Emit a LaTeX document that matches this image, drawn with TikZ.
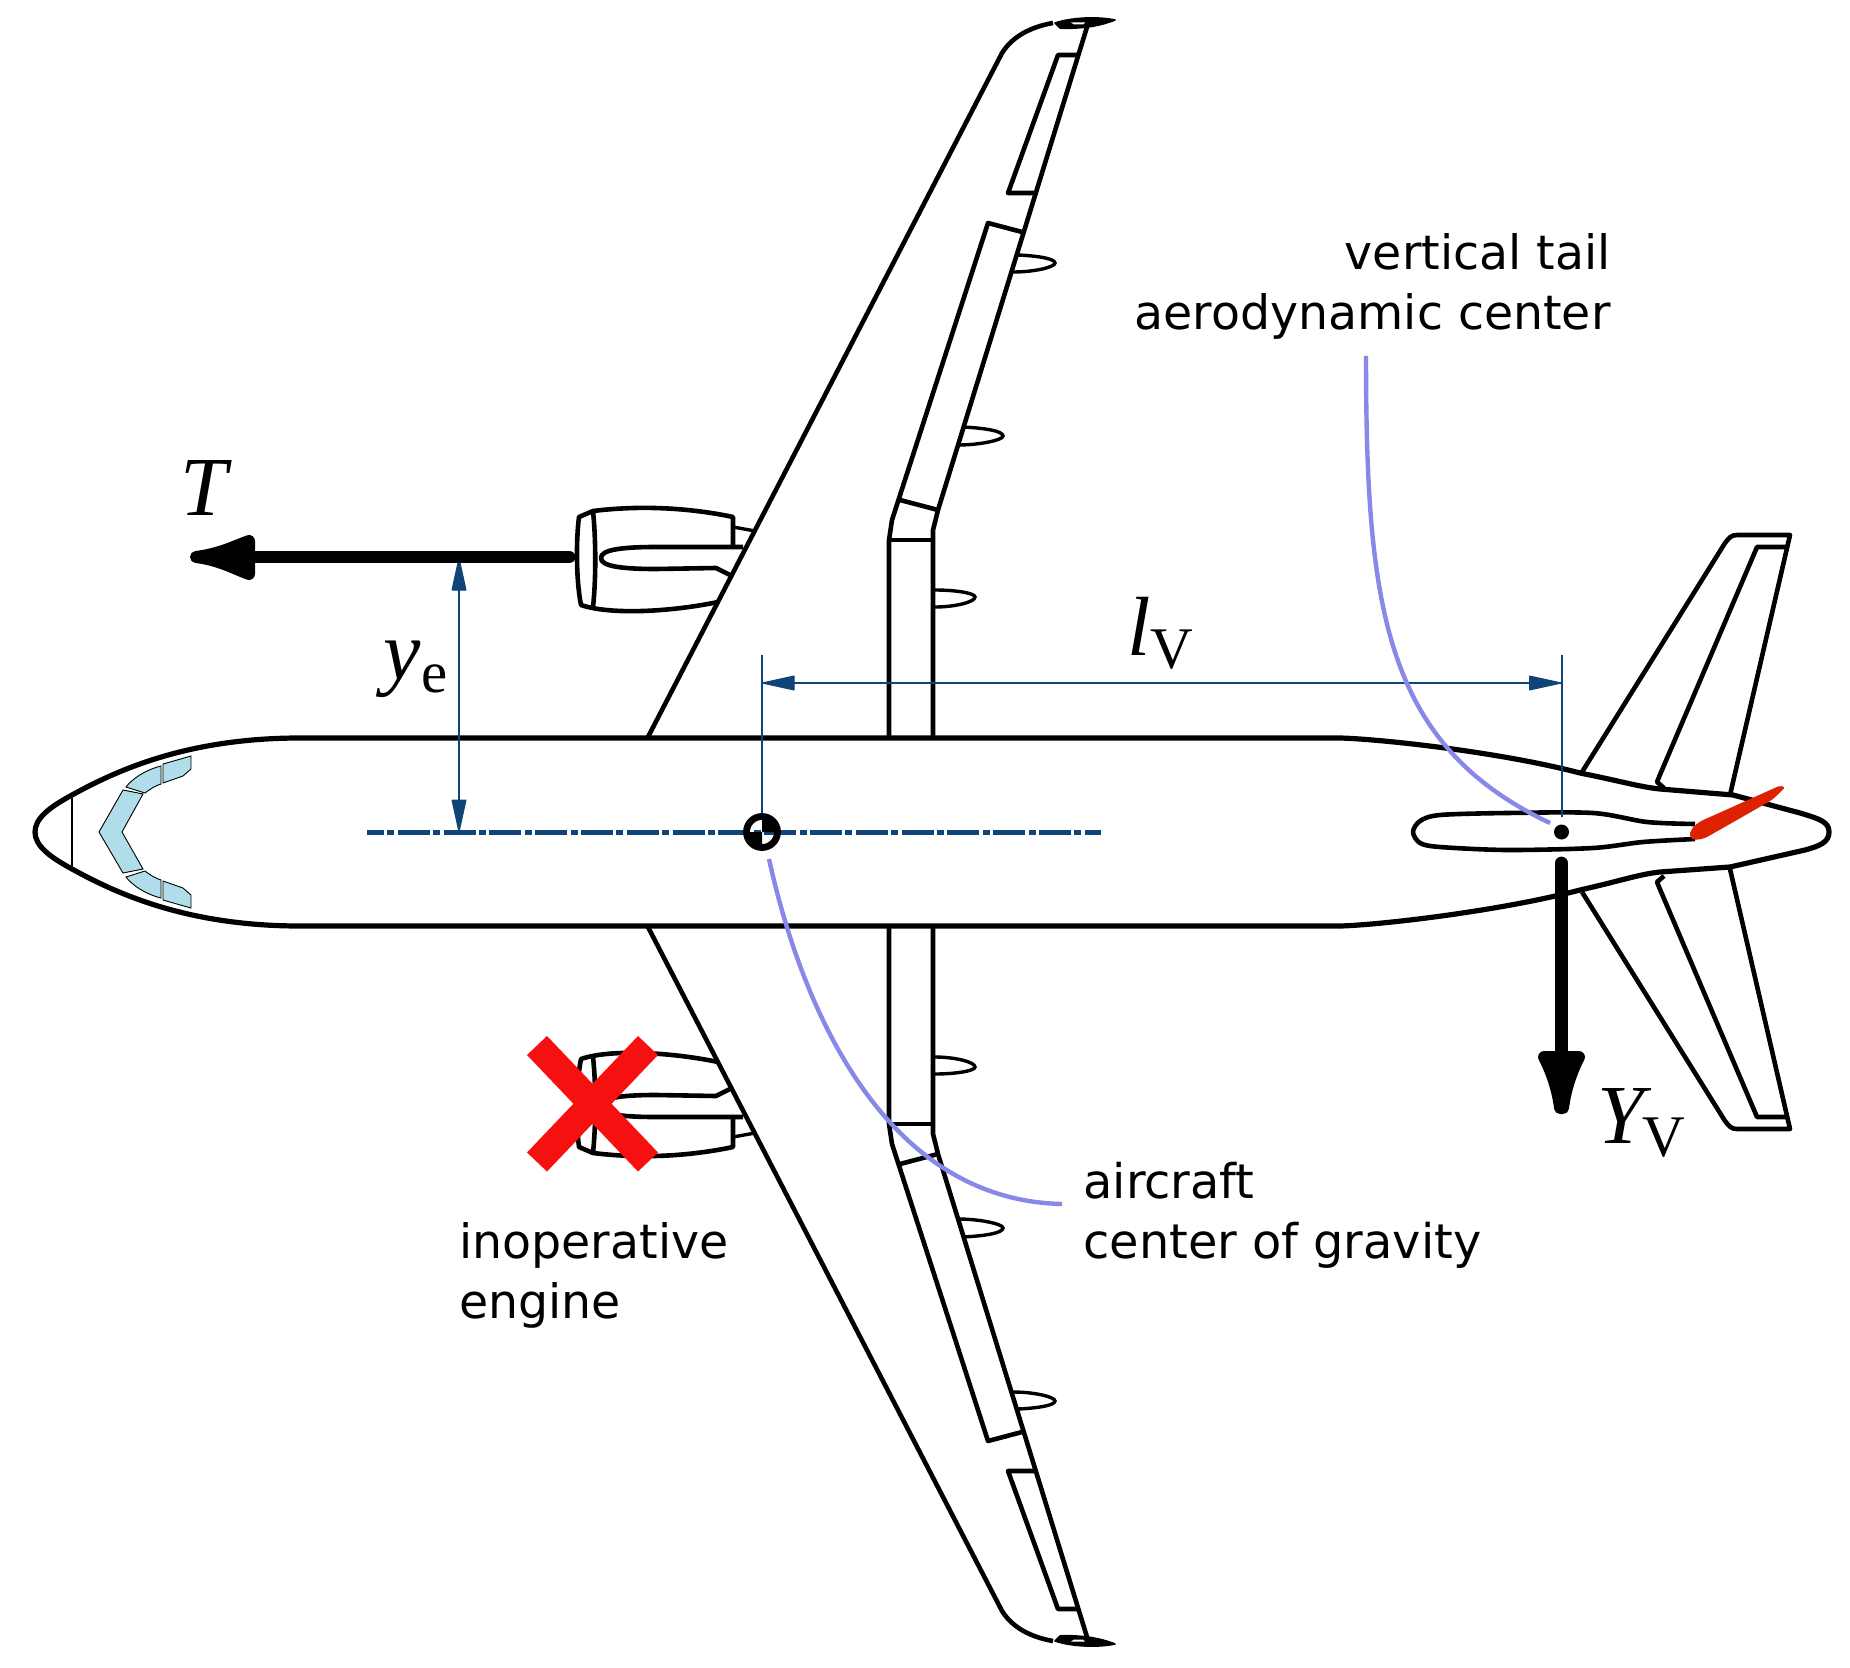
\documentclass[tikz,border=0pt]{standalone}
\usepackage{fontspec}
\setmainfont{DejaVu Sans}
\newfontfamily\tnr{Liberation Serif}
\newcommand{\symit}[1]{{\fontsize{42}{42}\selectfont\tnr\itshape #1}}
\newcommand{\symsub}[1]{\raisebox{-6.5pt}{\fontsize{29.5}{30}\selectfont\tnr #1}}
\definecolor{dimblue}{HTML}{0F4478}
\definecolor{leader}{HTML}{8888E8}
\definecolor{glass}{HTML}{B0DDEA}
\definecolor{rudderred}{HTML}{DC2200}
\definecolor{crossred}{HTML}{F71010}
\tikzset{
  hull/.style={draw=black,line width=2.6pt,line join=round},
  wingline/.style={draw=black,line width=2.3pt,line join=round},
  thinline/.style={draw=black,line width=1.7pt},
  pane/.style={fill=glass,draw=black,line width=0.45pt},
  dimline/.style={draw=dimblue,line width=1pt},
  dimhead/.style={fill=dimblue,draw=dimblue,line width=0.5pt,line join=round},
  leaderline/.style={draw=leader,line width=2.2pt},
  force/.style={draw=black,line width=6.4pt,line cap=round},
  forcehead/.style={fill=black,draw=black,line width=6pt,line join=round},
  caption/.style={font=\fontsize{23.7}{30}\selectfont,inner sep=0pt,align=left,anchor=north west},
  symbol/.style={inner sep=0pt,anchor=base west},
  crossbar/.style={draw=crossred,line width=13.8pt},
}
\newcommand{\halfplane}{%
  % wing
  \path[wingline] (648,737) -- (1002,53) .. controls (1012,37) and (1030,27) .. (1053,23);
  \path[wingline] (1087,27) -- (938,510) -- (933,530) -- (933,737);
  \path[wingline] (889,737) -- (889,540) -- (892,520) -- (988,223) -- (1022,232);
  \path[wingline] (889,540) -- (933,540);
  \path[wingline] (900,500) -- (938,510);
  \path[wingline] (1037,193) -- (1008,193) -- (1058,55) -- (1078,55);
  \path[fill=black,draw=black,line width=0.8pt,line join=round] (1055,23) .. controls (1070,18) and (1095,16) .. (1115,20) .. controls (1105,24) and (1095,26) .. (1088,27) .. controls (1078,28) and (1066,29) .. (1060,28) -- cycle;
  \path[fill=white] (1071,22.5) -- (1085,22.5) -- (1083,24.5) -- (1074,24.5) -- cycle;
  % flap fairings
  \path[thinline] (1018,255) .. controls (1040,256) and (1055,259) .. (1055,263) .. controls (1055,267) and (1035,272) .. (1013,272);
  \path[thinline] (962,427) .. controls (985,428) and (1003,431) .. (1003,436) .. controls (1003,440) and (980,445) .. (958,445);
  \path[thinline] (935,590) .. controls (955,590) and (975,593) .. (975,597) .. controls (975,602) and (955,607) .. (935,607);
  % engine
  \path[wingline] (733,547) -- (733,517) .. controls (700,510) and (650,504) .. (593,511) -- (579,517) .. controls (576,540) and (576,580) .. (581,605) .. controls (610,615) and (670,612) .. (718,602);
  \path[wingline] (593,511) .. controls (596,540) and (596,580) .. (593,607);
  \path[wingline] (743,547) -- (656,547) .. controls (620,547) and (601,550) .. (601,558) .. controls (601,566) and (620,569) .. (656,569) -- (716,568) -- (732,576);
  \path[draw=black,line width=1.7pt] (733,527) -- (755,531);
  % horizontal tail
  \path[wingline] (1582,772) -- (1725,543) .. controls (1729,538) and (1731,535) .. (1737,535) -- (1790,535) -- (1730,795);
  \path[wingline] (1787,547) -- (1757,547) -- (1659,777) -- (1657,782) -- (1664,788);
  % cockpit glass
  \path[pane] (163,764) -- (191,756) -- (191,769) -- (183,776) -- (163,783) -- cycle;
  \path[pane] (126,787) .. controls (132,779) and (145,770) .. (161,766) -- (161,784) .. controls (155,786) and (150,789) .. (145,793) -- cycle;
}
\begin{document}
\begin{tikzpicture}[x=0.5pt,y=-0.5pt]
\useasboundingbox (0,0) rectangle (1850,1668);
\fill[white] (0,0) rectangle (1850,1668);

\begin{scope}
  \halfplane
\end{scope}
\begin{scope}[shift={(0,832)},yscale=-1,shift={(0,-832)}]
  \halfplane
\end{scope}

% centre cockpit pane
\path[pane] (99,832) -- (123,790) -- (143,794) -- (122,832) -- (143,869) -- (123,873) -- cycle;
\draw[black,line width=0.55pt] (72,798) -- (72,866);

% fuselage
\draw[hull] (300,738) -- (1340,738) .. controls (1380,739) and (1500,752) .. (1580,773)
  .. controls (1620,781) and (1640,787) .. (1660,789) -- (1733,795) -- (1800,813)
  .. controls (1820,819) and (1829,822) .. (1829,832) .. controls (1829,842) and (1820,846) .. (1805,850)
  -- (1730,867) -- (1660,872) .. controls (1640,874) and (1620,881) .. (1580,890)
  .. controls (1500,911) and (1380,925) .. (1340,926) -- (300,926)
  .. controls (190,926) and (120,895.5) .. (72,869) .. controls (50,857) and (35,846) .. (35,832)
  .. controls (35,818) and (50,807) .. (72,795) .. controls (120,768.5) and (190,738) .. (300,738) -- cycle;

% vertical tail
\draw[wingline] plot[smooth,tension=0.5] coordinates {
  (1695,824) (1647,822) (1593,813) (1507,813) (1440,815) (1420,821) (1413,832) (1420,843) (1440,847) (1507,850) (1593,848) (1643,842) (1695,839)};
\fill[rudderred] (1690,833) .. controls (1692,827) and (1697,822) .. (1710,817) -- (1778,786.5) .. controls (1783,785.5) and (1786,787) .. (1783,789.5) .. controls (1778,794) and (1775,798) .. (1770,801) -- (1737,820) -- (1707,837) .. controls (1698,841) and (1689,841) .. (1690,833) -- cycle;

% named reference points
\coordinate (cg) at (762,832);
\coordinate (ac) at (1561.5,832);
\coordinate (clL) at (367,832);
\coordinate (clR) at (1101,832);
\coordinate (dimL) at (762,683);
\coordinate (dimR) at (1561.5,683);
\coordinate (extL) at (762,655);
\coordinate (extLb) at (762,814);
\coordinate (extR) at (1561.5,655);
\coordinate (extRb) at (1561.5,817);
\coordinate (yeTop) at (459,557);
\coordinate (yeBot) at (459,832);
\coordinate (thrustA) at (569,557);
\coordinate (thrustB) at (253,557);
\coordinate (sideA) at (1561.5,863);
\coordinate (sideB) at (1561.5,1052);

% centre line
\draw[draw=dimblue,line width=2.5pt,dash pattern=on 16pt off 1.7pt on 3.5pt off 1.7pt,dash phase=7.5pt] (clL) -- (clR);

% dimensions
\draw[dimline] (extL) -- (extLb);
\draw[dimline] (extR) -- (extRb);
\draw[dimline] (dimL) -- (dimR);
\draw[dimline] (yeTop) -- (yeBot);
\path[dimhead] (762,683) -- (794,676) -- (794,690) -- cycle;
\path[dimhead] (1561.5,683) -- (1529.5,676) -- (1529.5,690) -- cycle;
\path[dimhead] (459,558) -- (452,590) -- (466,590) -- cycle;
\path[dimhead] (459,832) -- (452,800) -- (466,800) -- cycle;

% centre of gravity symbol
\fill[black] (cg) -- ++(-13,0) arc[start angle=180,end angle=90,radius=13] -- cycle;
\fill[black] (cg) -- ++(13,0) arc[start angle=0,end angle=-90,radius=13] -- cycle;
\draw[black,line width=3.4pt] (cg) circle[radius=15.5];

% aerodynamic centre dot
\fill[black] (ac) circle[radius=7.5];

% forces
\draw[force] (thrustA) -- (thrustB);
\path[forcehead] (196,557) .. controls (220,554) and (235,546) .. (249,541) -- (249,574) .. controls (235,569) and (220,560) .. (196,557) -- cycle;
\draw[force] (sideA) -- (sideB);
\path[forcehead] (1544,1057) -- (1579,1057) .. controls (1572,1070) and (1565,1090) .. (1563,1108) -- (1560,1108) .. controls (1558,1090) and (1551,1070) .. (1544,1057) -- cycle;

% leaders
\draw[leaderline] (1366,356) .. controls (1366,610) and (1385,745) .. (1550,823);
\draw[leaderline] (769,859) .. controls (800,1000) and (880,1200) .. (1062,1204);

% inoperative engine cross
\draw[crossbar] (537,1045.5) -- (648,1162);
\draw[crossbar] (648,1045.5) -- (537,1162);

% labels
\node[symbol] (Tlabel) at (180,515) {\symit{T}};
\node[symbol] (yelabel) at (383,679) {\symit{y}\kern0.5pt\symsub{e}};
\node[symbol] (lvlabel) at (1127,655) {\symit{l}\symsub{V}};
\node[symbol] (yvlabel) at (1597,1143) {\symit{Y}\kern-1pt\symsub{V}};
\node[caption,align=right,anchor=north east] (vtlabel) at (1611,233) {vertical tail\\aerodynamic center};
\node[caption,font=\fontsize{23.9}{30}\selectfont] (cglabel) at (1083,1161.5) {aircraft\\center of gravity};
\node[caption] (ielabel) at (459,1222) {inoperative\\engine};
\end{tikzpicture}
\end{document}
